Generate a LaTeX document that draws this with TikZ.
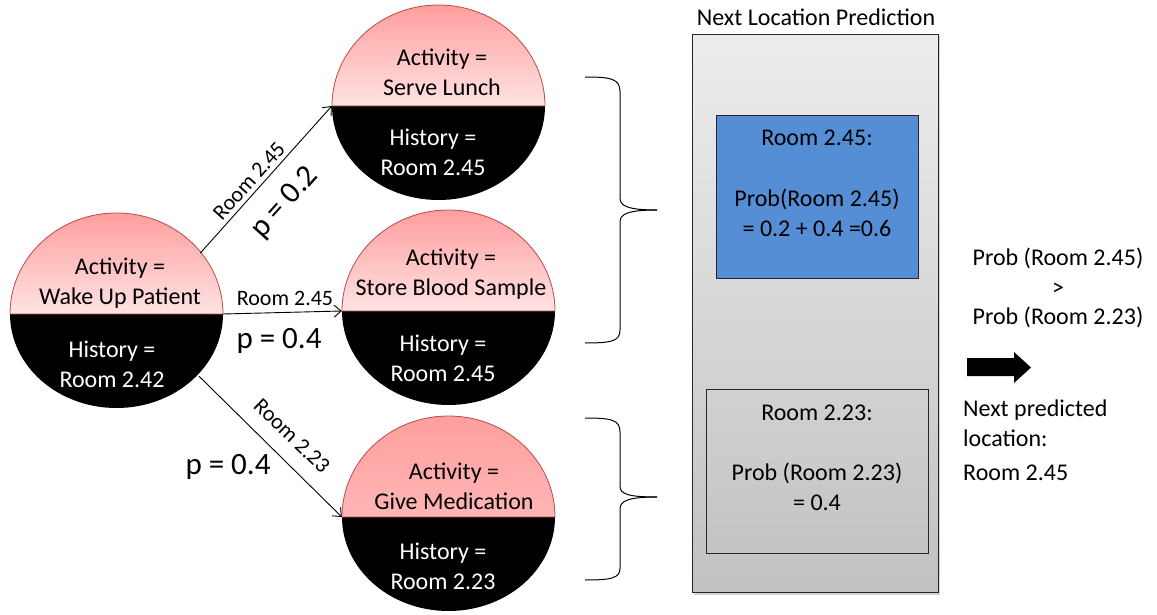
\documentclass[tikz,border=0pt]{standalone}
\usepackage{fontspec}
\setmainfont{Carlito}
\usetikzlibrary{arrows.meta,shapes.geometric,shadows}
\definecolor{pinkT}{HTML}{FF9E9E}
\definecolor{pinkB}{HTML}{FFE3E3}
\definecolor{pinkBd}{HTML}{FFB6B6}
\definecolor{rimred}{HTML}{C0504D}
\definecolor{panelT}{HTML}{EDEDED}
\definecolor{panelB}{HTML}{C1C1C1}
\definecolor{bluebox}{HTML}{558ED5}
\begin{document}
\begin{tikzpicture}[x=1pt,y=-1pt,
  ball/.style={ellipse, minimum width=213pt, minimum height=196pt, inner sep=0pt},
  uptext/.style={align=center, font=\fontsize{24}{30}\selectfont, text=black, inner sep=0pt},
  lowtext/.style={uptext, text=white},
  conn/.style={draw=black, line width=0.9pt, -{Straight Barb[length=7pt,width=12pt]}},
  edgelbl/.style={font=\fontsize{22}{26}\selectfont, inner sep=0pt},
  plbl/.style={font=\fontsize{31}{36}\selectfont, inner sep=0pt},
  bracepath/.style={draw=black, line width=1pt},
  panelbox/.style={draw=black!85, line width=0.9pt, rectangle, top color=panelT, bottom color=panelB,
    drop shadow={shadow xshift=2pt, shadow yshift=-2pt, opacity=0.35}},
  probbox/.style={draw=black!85, line width=0.9pt, rectangle, inner sep=0pt},
  plain/.style={font=\fontsize{24}{30}\selectfont, inner sep=0pt}
]
\useasboundingbox (0,0) rectangle (1157,615);

% ---- state balls ----
\foreach \n/\cx/\cy/\bc in {1/116.5/314/pinkB, 2/438.5/106/pinkB, 3/448.5/311/pinkB, 4/448.5/517/pinkBd}{
  \fill[top color=pinkT, bottom color=\bc] ({\cx-106.5},\cy) arc[start angle=180, end angle=0, x radius=106.5pt, y radius=101pt] -- cycle;
  \fill[black] ({\cx-106.5},\cy) arc[start angle=180, end angle=360, x radius=106.5pt, y radius=94pt] -- cycle;
  \draw[rimred, line width=0.8pt] ({\cx-106.5},\cy) arc[start angle=180, end angle=0, x radius=106.5pt, y radius=101pt] -- cycle;
  \node[ball] (b\n) at (\cx,\cy) {};
}

\node[uptext]  (a1) at (120,283) {Activity =\\Wake Up Patient};
\node[lowtext] (h1) at (112,364) {History =\\Room 2.42};
\node[uptext]  (a2) at (442,72) {Activity =\\Serve Lunch};
\node[lowtext] (h2) at (433,152) {History =\\Room 2.45};
\node[uptext]  (a3) at (451,274) {Activity =\\Store Blood Sample};
\node[lowtext] (h3) at (443,358) {History =\\Room 2.45};
\node[uptext]  (a4) at (454,486) {Activity =\\Give Medication};
\node[lowtext] (h4) at (443,566) {History =\\Room 2.23};

% ---- transitions ----
\draw[conn] (b1.36) -- (b2.west);
\draw[conn] (b1.east) -- (b3.west);
\draw[conn] (b1.-37) -- (b4.west);
\node[edgelbl, rotate=48] (l1) at (249,181) {Room 2.45};
\node[plbl, rotate=48] (p1) at (285,203) {p = 0.2};
\node[edgelbl] (l2) at (285,298) {Room 2.45};
\node[plbl] (p2) at (279,341) {p = 0.4};
\node[edgelbl, rotate=-44] (l3) at (292,436) {Room 2.23};
\node[plbl] (p3) at (228,467) {p = 0.4};

% ---- braces ----
\draw[bracepath] (585,77) .. controls (612,77) and (620,79) .. (620,92) -- (620,198)
  .. controls (620,206) and (628,210) .. (657,210);
\draw[bracepath] (657,210) .. controls (628,210) and (620,214) .. (620,222) -- (620,330)
  .. controls (620,341) and (612,343) .. (585,343);
\draw[bracepath] (585,418) .. controls (612,418) and (620,420) .. (620,432) -- (620,486)
  .. controls (620,494) and (628,497) .. (657,497);
\draw[bracepath] (657,497) .. controls (628,497) and (620,501) .. (620,509) -- (620,568)
  .. controls (620,578) and (612,580) .. (585,580);

% ---- prediction panel ----
\node[panelbox, minimum width=246pt, minimum height=558pt] (panel) at (815,313.5) {};
\node[plain] (title) at (816,17) {Next Location Prediction};
\node[probbox, fill=bluebox, minimum width=202pt, minimum height=163pt] (box1) at (817,196.5) {};
\node[uptext] (t1) at (817,183) {Room 2.45:\\[31pt]Prob(Room 2.45)\\= 0.2 + 0.4 =0.6};
\node[probbox, minimum width=222pt, minimum height=164pt] (box2) at (817,471) {};
\node[uptext] (t2) at (817,458) {Room 2.23:\\[30pt]Prob (Room 2.23)\\= 0.4};

% ---- conclusion ----
\node[uptext, text=black] (cmp) at (1058,288) {Prob (Room 2.45)\\[-0.5pt]>\\[-0.5pt]Prob (Room 2.23)};
\fill[black] (967,358) -- (1014,358) -- (1014,352) -- (1031,367.5) -- (1014,383) -- (1014,376) -- (967,376) -- cycle;
\node[uptext, align=left, anchor=west] (np) at (963,423) {Next predicted\\location:};
\node[plain, anchor=west] (res) at (963,473) {Room 2.45};
\end{tikzpicture}
\end{document}
